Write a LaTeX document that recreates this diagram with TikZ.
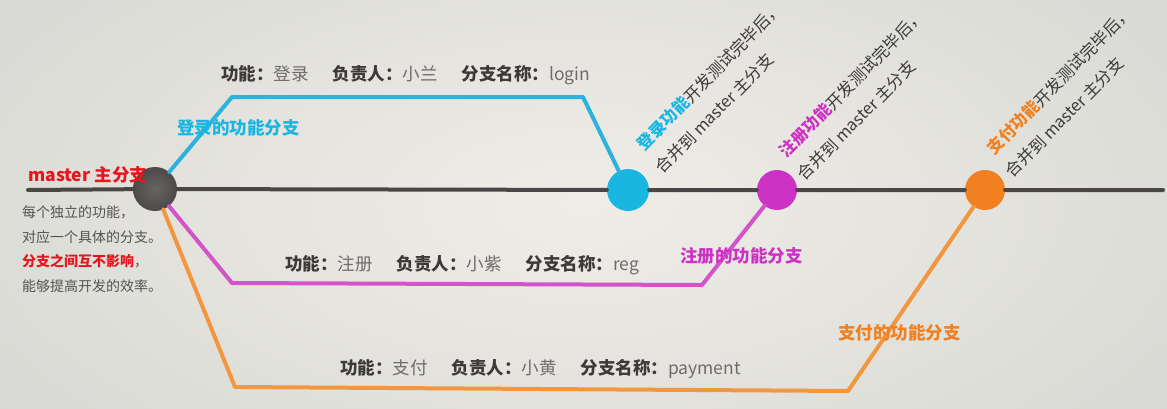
\documentclass[tikz,border=0pt]{standalone}
\usepackage{fontspec}
\setmainfont{Noto Sans CJK SC}
\definecolor{bgin}{RGB}{240,237,231}
\definecolor{bgout}{RGB}{216,217,212}
\definecolor{mainline}{RGB}{74,70,70}
\definecolor{mastercol}{RGB}{78,73,73}
\definecolor{masterhi}{RGB}{105,100,100}
\definecolor{bluec}{RGB}{26,182,226}
\definecolor{bluel}{RGB}{44,178,222}
\definecolor{magc}{RGB}{204,51,196}
\definecolor{magl}{RGB}{210,84,200}
\definecolor{orac}{RGB}{240,128,32}
\definecolor{oral}{RGB}{243,150,64}
\definecolor{redc}{RGB}{232,20,30}
\definecolor{labgray}{RGB}{60,58,58}
\definecolor{valgray}{RGB}{110,108,108}
\definecolor{txtgray}{RGB}{85,83,83}
\newcommand\infoline[3]{{\bfseries\color{labgray}功能：}{\color{valgray}#1}\hspace{24pt}{\bfseries\color{labgray}负责人：}{\color{valgray}#2}\hspace{24pt}{\bfseries\color{labgray}分支名称：}{\color{valgray}#3}}
\newcommand\mergenote[2]{\hspace*{4pt}{\bfseries\color{#1}#2}开发测试完毕后，\\合并到 master 主分支}
\tikzset{
  ball/.style={circle, inner sep=0pt, minimum size=#1},
  branch/.style={line width=4pt, line join=round, line cap=round},
  info/.style={anchor=west, inner sep=0pt, font=\fontsize{17.5}{19}\selectfont},
  blabel/.style={anchor=west, inner sep=0pt, font=\fontsize{17.5}{19}\selectfont\bfseries},
  desc/.style={anchor=west, inner sep=0pt, font=\fontsize{14}{16}\selectfont, text=txtgray},
  merge/.style={anchor=south west, inner sep=0pt, rotate=45.5, align=left, font=\fontsize{16.5}{29.5}\selectfont, text=labgray}
}
\begin{document}
\begin{tikzpicture}[x=1pt,y=-1pt]
\useasboundingbox (0,0) rectangle (1167,408);
\shade[inner color=bgin, outer color=bgout] (-150,-150) rectangle (1317,558);
% main line endpoints
\coordinate (ms) at (28,190);
\coordinate (me) at (1163,190);
% circles
\node[ball=44pt, inner color=masterhi, outer color=mastercol] (m) at (155,189) {};
\node[ball=42pt, fill=bluec] (b) at (628,190) {};
\node[ball=40pt, fill=magc] (r) at (777,190) {};
\node[ball=40pt, fill=orac] (p) at (985,190) {};
% corner coordinates
\coordinate (b1) at (232,97);
\coordinate (b2) at (583,97);
\coordinate (r1) at (232,283);
\coordinate (r2) at (702,285);
\coordinate (p1) at (235,387);
\coordinate (p2) at (848,391);
% main line
\draw[line width=4pt, mainline, line cap=round] (ms) -- (m) (m) -- (b) (b) -- (r) (r) -- (p) (p) -- (me);
% branches
\draw[branch, bluel] (m) -- (b1) -- (b2) -- (b);
\draw[branch, magl] (m) -- (r1) -- (r2) -- (r);
\draw[branch, oral] (m) -- (p1) -- (p2) -- (p);
% info lines
\node[info] (ib) at (221,75) {\infoline{登录}{小兰}{login}};
\node[info] (ir) at (285,265) {\infoline{注册}{小紫}{reg}};
\node[info] (ip) at (340,369) {\infoline{支付}{小黄}{payment}};
% branch labels
\node[blabel, text=bluec] (lb) at (177,128) {登录的功能分支};
\node[blabel, text=magc] (lr) at (680,256) {注册的功能分支};
\node[blabel, text=orac] (lp) at (838,333) {支付的功能分支};
\node[blabel, text=redc] (lm) at (28,175) {master 主分支};
% description
\node[desc] (d1) at (22,212) {每个独立的功能，};
\node[desc] (d2) at (22,237) {对应一个具体的分支。};
\node[desc] (d3) at (22,261) {{\bfseries\color{redc}分支之间互不影响}，};
\node[desc] (d4) at (22,286) {能够提高开发的效率。};
% merge notes
\node[merge] (mb) at (664,176) {\mergenote{bluec}{登录功能}};
\node[merge] (mr) at (806,183) {\mergenote{magc}{注册功能}};
\node[merge] (mp) at (1014,180) {\mergenote{orac}{支付功能}};
\end{tikzpicture}
\end{document}
